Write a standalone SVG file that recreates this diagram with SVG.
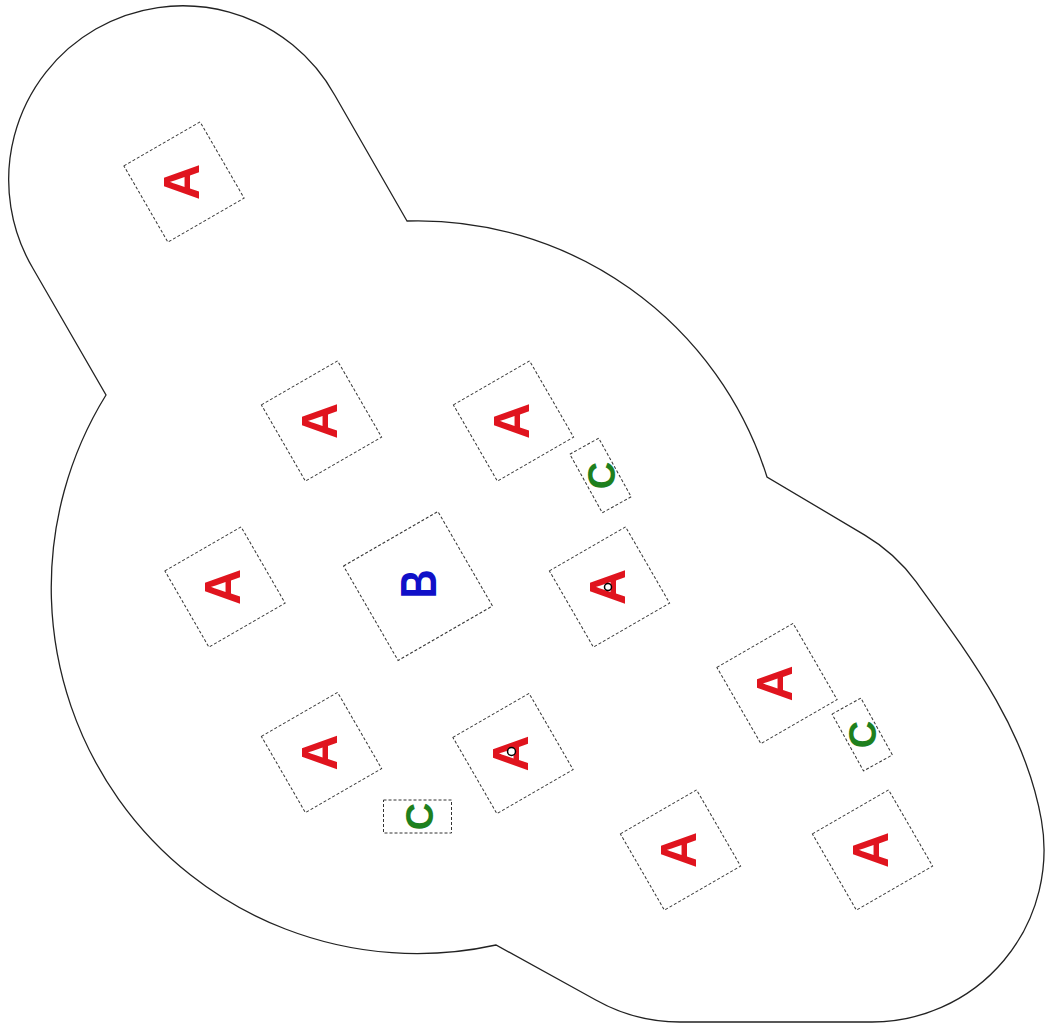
<svg xmlns="http://www.w3.org/2000/svg" width="1050" height="1023" viewBox="0 0 1050 1023">
<defs>
<style>
.box{fill:#fff;stroke:#333;stroke-width:1;stroke-dasharray:3 2}
.t{font-family:"Liberation Sans",Arial,sans-serif;font-weight:bold;text-anchor:middle}
.a{fill:#e0141e;font-size:50px}
.b{fill:#1010c8;font-size:50px}
.c{fill:#1e801e;font-size:38px}
.dot{fill:#fff;stroke:#000;stroke-width:1.5}
.hull{fill:#fff;stroke:#222;stroke-width:1.3}
</style>
</defs>
<rect width="1050" height="1023" fill="#fff"/>
<g id="hull">
<path class="hull" d="M 407,221 L 334.8,95.3 A 174 174 0 1 0 33.3,269 L 106,395 A 366 366 0 0 0 496,945 L 595.8,1000 A 172 172 0 0 0 680,1022 L 872,1022 A 172 172 0 0 0 1041.4,820 C 1025.7,731.3 975,662.8 916.2,581.9 A 172 172 0 0 0 864.8,535.1 L 767,477 A 366 366 0 0 0 407,221 Z"/>
</g>
<g id="connectors"></g>
<g id="a1" transform="translate(184,182)"><rect class="box" x="-44" y="-44" width="88" height="88" transform="rotate(-30)"/><text class="t a" transform="rotate(-90)" y="15">A</text></g>
<g id="a2" transform="translate(321.5,421)"><rect class="box" x="-44" y="-44" width="88" height="88" transform="rotate(-30)"/><text class="t a" transform="rotate(-90)" y="15">A</text></g>
<g id="a3" transform="translate(513.5,421)"><rect class="box" x="-44" y="-44" width="88" height="88" transform="rotate(-30)"/><text class="t a" transform="rotate(-90)" y="15">A</text></g>
<g id="c1" transform="translate(600.5,475.5)"><rect class="box" x="-16.5" y="-33.5" width="33" height="67" transform="rotate(-29)"/><text class="t c" transform="rotate(-90)" y="14">C</text></g>
<g id="a4" transform="translate(225,587)"><rect class="box" x="-44" y="-44" width="88" height="88" transform="rotate(-30)"/><text class="t a" transform="rotate(-90)" y="15">A</text></g>
<g id="b1" transform="translate(418,586)"><rect class="box" x="-54.5" y="-54.5" width="109" height="109" transform="rotate(-30)"/><text class="t b" transform="rotate(-90)" x="2" y="18" textLength="29" lengthAdjust="spacingAndGlyphs">B</text></g>
<g id="a5" transform="translate(609.5,587)"><rect class="box" x="-44" y="-44" width="88" height="88" transform="rotate(-30)"/><text class="t a" transform="rotate(-90)" y="15">A</text><circle class="dot" cx="-1.5" cy="0" r="3.5"/></g>
<g id="a6" transform="translate(321.5,752.5)"><rect class="box" x="-44" y="-44" width="88" height="88" transform="rotate(-30)"/><text class="t a" transform="rotate(-90)" y="15">A</text></g>
<g id="a7" transform="translate(513,753.5)"><rect class="box" x="-44" y="-44" width="88" height="88" transform="rotate(-30)"/><text class="t a" transform="rotate(-90)" y="15">A</text><circle class="dot" cx="-1.5" cy="-2" r="4"/></g>
<g id="c2" transform="translate(417.5,816.5)"><rect class="box" x="-34" y="-16.5" width="68" height="33"/><text class="t c" transform="rotate(-90)" y="15">C</text></g>
<g id="a8" transform="translate(777,683.5)"><rect class="box" x="-44" y="-44" width="88" height="88" transform="rotate(-30)"/><text class="t a" transform="rotate(-90)" y="15">A</text></g>
<g id="c3" transform="translate(862.2,734.5)"><rect class="box" x="-16.5" y="-32.5" width="33" height="65" transform="rotate(-29)"/><text class="t c" transform="rotate(-90)" y="14">C</text></g>
<g id="a9" transform="translate(680.5,850)"><rect class="box" x="-44" y="-44" width="88" height="88" transform="rotate(-30)"/><text class="t a" transform="rotate(-90)" y="15">A</text></g>
<g id="a10" transform="translate(872.5,850)"><rect class="box" x="-44" y="-44" width="88" height="88" transform="rotate(-30)"/><text class="t a" transform="rotate(-90)" y="15">A</text></g>
</svg>
